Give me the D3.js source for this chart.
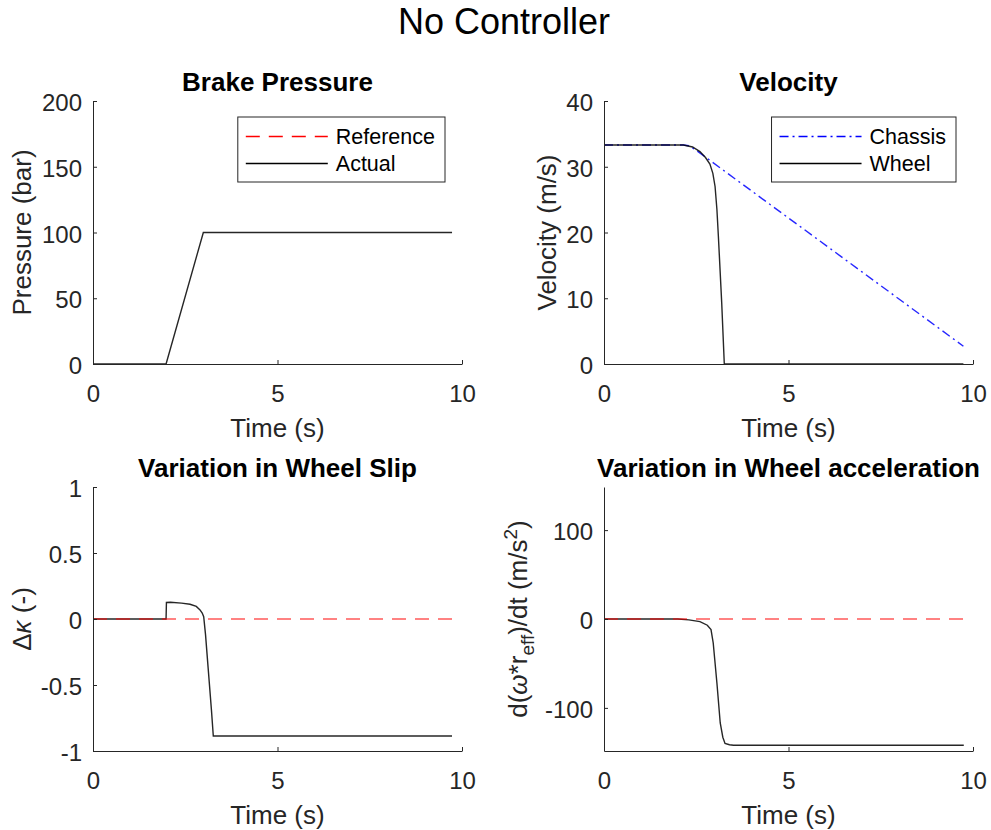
<!DOCTYPE html>
<html>
<head>
<meta charset="utf-8">
<script src="https://cdn.jsdelivr.net/npm/d3@7"></script>
<style>
  body { margin: 0; background: #fff; }
  svg { font-family: "Liberation Sans", Arial, Helvetica, sans-serif; }
</style>
</head>
<body>
<svg id="chart" width="991" height="830"></svg>
<script>
// Data
const pressureTime = [0, 1.98, 2.99, 9.73];
const pressureActual = [0, 0, 100, 100];

const chassisTime = [0, 2.15, 2.3, 2.45, 9.74];
const chassisVel = [33.3, 33.3, 33.2, 32.7, 2.7];

const wheelTime = [0, 2.15, 2.4, 2.6, 2.75, 2.87, 2.95, 3.01, 3.06, 3.1, 3.19, 3.26, 9.74];
const wheelVel = [33.3, 33.3, 33.0, 32.3, 31.4, 30.4, 29.0, 27.0, 23.5, 19.4, 9.3, 0, 0];

const slipTime = [0, 1.98, 1.99, 2.1, 2.4, 2.63, 2.8, 2.9, 2.96, 3.0, 3.05, 3.12, 3.21, 3.26, 9.73];
const slipVals = [0, 0, 0.125, 0.127, 0.12, 0.112, 0.095, 0.069, 0.045, 0.018, -0.12, -0.37, -0.69, -0.886, -0.886];

const accelTime = [0, 2.0, 2.3, 2.6, 2.8, 2.9, 2.96, 3.0, 3.06, 3.15, 3.22, 3.28, 3.4, 3.51, 9.75];
const accelVals = [0, 0, -1, -3, -7, -12, -27, -45, -72, -117, -133, -140, -141.5, -142, -142];

const refTime = [0, 9.8];
const refVals = [0, 0];

const xTicks = [0, 5, 10];
const pressureTicks = [0, 50, 100, 150, 200];
const velocityTicks = [0, 10, 20, 30, 40];
const slipTicks = [-1, -0.5, 0, 0.5, 1];
const accelTicks = [-100, 0, 100];

const AXIS_COLOR = '#262626';
const LEFT = [93, 462];
const RIGHT = [604, 973];
const TOP = [101, 364];
const BOTTOM = [487, 751];

const svg = d3.select('#chart');

svg.append('text')
    .attr('x', 504)
    .attr('y', 34)
    .attr('text-anchor', 'middle')
    .attr('font-size', 36)
    .attr('fill', '#000')
    .text('No Controller');

const styles = {
    actual: { stroke: '#000', width: 1.4, dash: null, opacity: 0.85 },
    reference: { stroke: '#ff0000', width: 1.4, dash: '14,9', opacity: 0.65 },
    chassis: { stroke: '#0000ff', width: 1.4, dash: '9,4,2,4', opacity: 0.85 },
};

function zip(ts, vs) {
    return ts.map((t, i) => [t, vs[i]]);
}

function panel(cfg) {
    const x = d3.scaleLinear().domain([0, 10]).range(cfg.xr);
    const y = d3.scaleLinear().domain(cfg.yDomain).range([cfg.yr[1], cfg.yr[0]]);
    const g = svg.append('g');

    const line = d3.line().x(d => x(d[0])).y(d => y(d[1]));

    cfg.series.forEach(s => {
        const st = styles[s.style];
        g.append('path')
            .datum(zip(s.t, s.v))
            .attr('d', line)
            .attr('fill', 'none')
            .attr('stroke', st.stroke)
            .attr('stroke-opacity', st.opacity)
            .attr('stroke-width', st.width)
            .attr('stroke-dasharray', st.dash);
    });

    // axes (MATLAB style: ticks inside)
    const xAxis = g.append('g')
        .attr('transform', `translate(0,${cfg.yr[1]})`)
        .call(d3.axisBottom(x).tickValues(xTicks).tickFormat(d => String(d))
            .tickSizeInner(-4).tickSizeOuter(0).tickPadding(21));
    const yAxis = g.append('g')
        .attr('transform', `translate(${cfg.xr[0]},0)`)
        .call(d3.axisLeft(y).tickValues(cfg.yTicks).tickFormat(d => String(d))
            .tickSizeInner(-4).tickSizeOuter(0).tickPadding(11));

    [xAxis, yAxis].forEach(a => {
        a.attr('font-family', null).attr('font-size', 24);
        a.selectAll('path, line').attr('stroke', AXIS_COLOR).attr('stroke-width', 1);
        a.selectAll('text').attr('fill', AXIS_COLOR);
    });
    xAxis.selectAll('text').attr('dy', '0.71em');
    yAxis.selectAll('text').attr('dy', '0.4em');

    const cx = (cfg.xr[0] + cfg.xr[1]) / 2;
    const cy = (cfg.yr[0] + cfg.yr[1]) / 2;

    g.append('text')
        .attr('x', cx)
        .attr('y', cfg.yr[0] - 10.5)
        .attr('text-anchor', 'middle')
        .attr('font-size', 26)
        .attr('font-weight', 'bold')
        .attr('fill', '#000')
        .text(cfg.title);

    g.append('text')
        .attr('x', cx)
        .attr('y', cfg.yr[1] + 73)
        .attr('text-anchor', 'middle')
        .attr('font-size', 26)
        .attr('fill', AXIS_COLOR)
        .text('Time (s)');

    const yl = g.append('text')
        .attr('transform', `translate(${cfg.ylabelX},${cy}) rotate(-90)`)
        .attr('text-anchor', 'middle')
        .attr('font-size', 26)
        .attr('fill', AXIS_COLOR);
    cfg.ylabel.forEach(part => {
        const ts = yl.append('tspan').text(part.text);
        if (part.italic) ts.attr('font-style', 'italic');
        if (part.size) ts.attr('font-size', part.size);
        if (part.dy) ts.attr('dy', part.dy);
    });

    if (cfg.legend) {
        const lg = g.append('g');
        const rowY = [19.5, 46.5];
        const texts = cfg.legend.map((item, i) => lg.append('text')
            .attr('x', 98)
            .attr('y', rowY[i])
            .attr('dy', '0.35em')
            .attr('font-size', 21.5)
            .attr('fill', '#000')
            .text(item.label));
        const tw = d3.max(texts, t => t.node().getComputedTextLength());
        const w = 98 + tw + 10;
        const h = 65;
        lg.insert('rect', 'text')
            .attr('width', w)
            .attr('height', h)
            .attr('fill', '#fff')
            .attr('stroke', AXIS_COLOR)
            .attr('stroke-width', 1);
        cfg.legend.forEach((item, i) => {
            const st = styles[item.style];
            lg.append('line')
                .attr('x1', 8).attr('x2', 90)
                .attr('y1', rowY[i]).attr('y2', rowY[i])
                .attr('stroke', st.stroke)
                .attr('stroke-width', st.width)
                .attr('stroke-dasharray', st.dash);
        });
        lg.attr('transform', `translate(${cfg.xr[1] - 17 - w},${cfg.yr[0] + 16})`);
    }
}

panel({
    xr: LEFT, yr: TOP, yDomain: [0, 200], yTicks: pressureTicks,
    title: 'Brake Pressure', ylabelX: 31,
    ylabel: [{ text: 'Pressure (bar)' }],
    series: [{ t: pressureTime, v: pressureActual, style: 'actual' }],
    legend: [{ label: 'Reference', style: 'reference' }, { label: 'Actual', style: 'actual' }]
});

panel({
    xr: RIGHT, yr: TOP, yDomain: [0, 40], yTicks: velocityTicks,
    title: 'Velocity', ylabelX: 556,
    ylabel: [{ text: 'Velocity (m/s)' }],
    series: [
        { t: chassisTime, v: chassisVel, style: 'chassis' },
        { t: wheelTime, v: wheelVel, style: 'actual' }
    ],
    legend: [{ label: 'Chassis', style: 'chassis' }, { label: 'Wheel', style: 'actual' }]
});

panel({
    xr: LEFT, yr: BOTTOM, yDomain: [-1, 1], yTicks: slipTicks,
    title: 'Variation in Wheel Slip', ylabelX: 31,
    ylabel: [{ text: '\u0394' }, { text: '\u03ba', italic: true }, { text: ' (-)' }],
    series: [
        { t: slipTime, v: slipVals, style: 'actual' },
        { t: refTime, v: refVals, style: 'reference' }
    ]
});

panel({
    xr: RIGHT, yr: BOTTOM, yDomain: [-148.5, 148.5], yTicks: accelTicks,
    title: 'Variation in Wheel acceleration', ylabelX: 527,
    ylabel: [
        { text: 'd(' }, { text: '\u03c9', italic: true }, { text: '*r' },
        { text: 'eff', size: 19, dy: 7 }, { text: ')/dt (m/s', dy: -7 },
        { text: '2', size: 19, dy: -10 }, { text: ')', dy: 10 }
    ],
    series: [
        { t: accelTime, v: accelVals, style: 'actual' },
        { t: refTime, v: refVals, style: 'reference' }
    ]
});
</script>
</body>
</html>
